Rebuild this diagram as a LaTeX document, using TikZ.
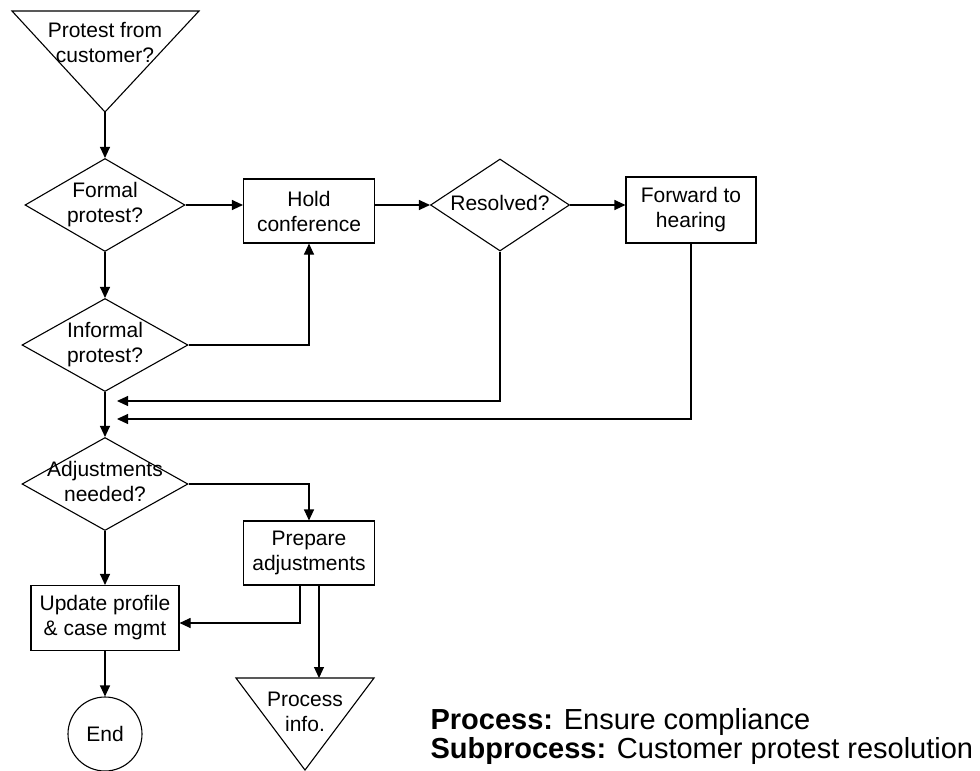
\documentclass[tikz,border=0pt]{standalone}
\usepackage{fontspec}
\setmainfont{Liberation Sans}
\usetikzlibrary{arrows.meta,shapes.geometric,positioning}

\newcommand{\nodefont}{\fontsize{21}{25}\selectfont}
\newcommand{\dlabel}[1]{\makebox[0pt]{\begin{tabular}{@{}c@{}}#1\end{tabular}}}

\tikzset{
    process/.style={rectangle, draw, align=center, minimum width=131pt, minimum height=64pt, inner sep=2pt, font=\nodefont},
    decision/.style={diamond, draw, minimum width=166pt, minimum height=93pt, inner sep=0pt, font=\nodefont},
    terminal/.style={circle, draw, minimum size=74pt, inner sep=0pt, font=\nodefont},
    tritext/.style={align=center, inner sep=0pt, font=\nodefont},
    caption/.style={anchor=base west, inner sep=0pt, font=\fontsize{29}{31}\selectfont}
}

\begin{document}
\begin{tikzpicture}[x=1pt,y=-1pt,->,>={Triangle[length=11pt,width=10pt]},line width=1.1pt,node distance=100pt]
        \useasboundingbox (0,0) rectangle (980,771);

        \node[decision, minimum width=160pt] (formal) at (105,205)
            {\dlabel{Formal\\protest?}};

        \node[tritext] (protest) [above of=formal, node distance=162pt]
            {Protest from\\customer?};

        \node[process] (hold) [right of=formal, node distance=204pt, yshift=-6pt]
            {Hold\\conference};

        \node[decision, minimum width=139pt, minimum height=92pt] (resolved) [right of=formal, node distance=395pt]
            {\dlabel{Resolved?}};

        \node[process, minimum width=130pt, minimum height=66pt] (forward) [right of=resolved, node distance=191pt, yshift=-5pt]
            {Forward to\\hearing};

        \node[decision] (informal) [below of=formal, node distance=140pt]
            {\dlabel{Informal\\protest?}};

        \node[decision] (adjust) [below of=informal, node distance=139pt]
            {\dlabel{Adjustments\\needed?}};

        \node[process] (prepare) [below of=hold, node distance=342pt]
            {Prepare\\adjustments};

        \node[process, minimum width=148pt, minimum height=65pt] (update) [below of=adjust, node distance=134pt]
            {Update profile\\\& case mgmt};

        \node[terminal] (end) [below of=update, node distance=116pt]
            {End};

        \node[tritext] (info) [below of=prepare, node distance=159pt, xshift=-4pt]
            {Process\\info.};

        \node[caption] (procLabel) at (430,729)
            {\textbf{Process:} Ensure compliance};

        \node[caption] (subLabel) at (430,758)
            {\textbf{Subprocess:} Customer protest resolution};

        % triangles
        \coordinate (protestTip) at ([yshift=-69pt]protest.center);
        \coordinate (infoTop) at ([yshift=34pt]info.center);
        \draw[-] ([xshift=-93pt,yshift=32pt]protest.center) -- ([xshift=94pt,yshift=32pt]protest.center) -- (protestTip) -- cycle;
        \draw[-] ([xshift=-69pt]infoTop) -- ([xshift=69pt]infoTop) -- ([yshift=-92pt]infoTop) -- cycle;

        % merge points and exits
        \coordinate (mergeA) at (117,401);
        \coordinate (mergeB) at (117,419);
        \coordinate (prepOutA) at ([xshift=-9pt]prepare.south);
        \coordinate (prepOutB) at ([xshift=10pt]prepare.south);

        \draw (protestTip) -- (formal.north);
        \draw (formal.east) -- (formal.east -| hold.west);
        \draw (resolved.west -| hold.east) -- (resolved.west);
        \draw (resolved.east) -- (resolved.east -| forward.west);
        \draw (formal.south) -- (informal.north);
        \draw (informal.east) -| (hold.south);
        \draw (resolved.south) |- (mergeA);
        \draw (forward.south) |- (mergeB);
        \draw (informal.south) -- (adjust.north);
        \draw (adjust.east) -| (prepare.north);
        \draw (adjust.south) -- (update.north);
        \draw (prepOutA) |- ([yshift=-5pt]update.east);
        \draw (prepOutB) -- (prepOutB |- infoTop);
        \draw (update.south) -- (end.north);
    \end{tikzpicture}
\end{document}
